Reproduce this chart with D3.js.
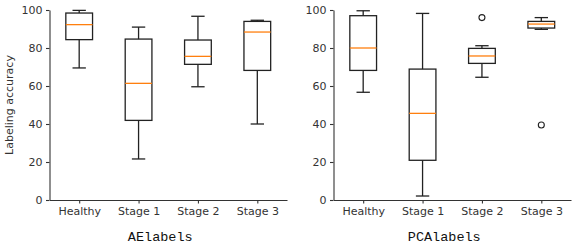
<!DOCTYPE html>
<html>
<head>
<meta charset="utf-8">
<script src="https://cdn.jsdelivr.net/npm/d3@7"></script>
<style>
  body { margin: 0; background: #fff; }
  svg { display: block; }
  .axis text { font-family: "DejaVu Sans", sans-serif; font-size: 11px; fill: #333; }
  .axis path, .axis line { stroke: #333; stroke-width: 1.1; }
  .xlabel { font-family: "Liberation Mono", monospace; font-size: 13.5px; fill: #111; }
  .ylabel { font-family: "DejaVu Sans", sans-serif; font-size: 11px; fill: #333; }
</style>
</head>
<body>
<div id="chart"></div>
<script>
//---------------------------DATA---------------------------//
const categories = ["Healthy", "Stage 1", "Stage 2", "Stage 3"];
const yTicks = [0, 20, 40, 60, 80, 100];

// per category: [lower whisker, Q1, median, Q3, upper whisker]
const aeStats = [
  [69.5, 84.4, 92.3, 98.4, 99.8],
  [21.6, 41.9, 61.4, 84.7, 91.0],
  [59.6, 71.4, 75.6, 84.2, 96.7],
  [40.0, 68.2, 88.4, 94.0, 94.6]
];
const aeOutliers = [[], [], [], []];

const pcaStats = [
  [56.7, 68.2, 80.0, 97.0, 99.6],
  [2.1, 20.9, 45.6, 68.9, 98.2],
  [64.6, 71.9, 75.8, 79.8, 81.2],
  [89.8, 90.5, 92.6, 94.0, 96.0]
];
const pcaOutliers = [[], [], [96.0], [39.5]];

//--------------------------LAYOUT--------------------------//
const width = 574;
const height = 246;
const plotTop = 10, plotBottom = 200;

const svg = d3.select("#chart").append("svg")
    .attr("width", width)
    .attr("height", height);

const panels = [
  {x0: 49.5, x1: 287, stats: aeStats, outliers: aeOutliers, label: "AElabels"},
  {x0: 333.5, x1: 571, stats: pcaStats, outliers: pcaOutliers, label: "PCAlabels"}
];

const yScale = d3.scaleLinear().domain([0, 100]).range([plotBottom, plotTop]);

panels.forEach(function(p, pi) {
  const xScale = d3.scaleLinear().domain([0.5, 4.5]).range([p.x0, p.x1]);
  const g = svg.append("g");

  //-------------------------AXES-------------------------//
  g.append("g")
      .attr("class", "axis")
      .attr("transform", "translate(" + p.x0 + ",0)")
      .call(d3.axisLeft(yScale).tickValues(yTicks)
          .tickSize(3.5).tickSizeOuter(0).tickPadding(3.5));

  g.append("g")
      .attr("class", "axis")
      .attr("transform", "translate(0," + plotBottom + ")")
      .call(d3.axisBottom(xScale).tickValues([1, 2, 3, 4])
          .tickFormat(function(d) { return categories[d - 1]; })
          .tickSize(3.5).tickSizeOuter(0).tickPadding(3.5));

  g.append("text")
      .attr("class", "xlabel")
      .attr("x", (p.x0 + p.x1) / 2 - 8)
      .attr("y", 241)
      .attr("text-anchor", "middle")
      .text(p.label);

  if (pi === 0) {
    g.append("text")
        .attr("class", "ylabel")
        .attr("transform", "translate(12.5," + (plotTop + plotBottom) / 2 + ") rotate(-90)")
        .attr("text-anchor", "middle")
        .text("Labeling accuracy");
  }

  //-------------------------BOXES------------------------//
  const unit = xScale(2) - xScale(1);
  const boxW = 0.45 * unit;
  const capW = boxW / 2;

  const boxes = g.selectAll(".box")
      .data(p.stats)
      .enter()
      .append("g")
      .attr("class", "box");

  boxes.append("rect")
      .attr("x", function(d, i) { return xScale(i + 1) - boxW / 2; })
      .attr("y", function(d) { return yScale(d[3]); })
      .attr("width", boxW)
      .attr("height", function(d) { return yScale(d[1]) - yScale(d[3]); })
      .attr("fill", "none")
      .attr("stroke", "#222")
      .attr("stroke-width", 1.3);

  // whiskers
  boxes.append("line")
      .attr("x1", function(d, i) { return xScale(i + 1); })
      .attr("x2", function(d, i) { return xScale(i + 1); })
      .attr("y1", function(d) { return yScale(d[0]); })
      .attr("y2", function(d) { return yScale(d[1]); })
      .attr("stroke", "#222").attr("stroke-width", 1.3);
  boxes.append("line")
      .attr("x1", function(d, i) { return xScale(i + 1); })
      .attr("x2", function(d, i) { return xScale(i + 1); })
      .attr("y1", function(d) { return yScale(d[3]); })
      .attr("y2", function(d) { return yScale(d[4]); })
      .attr("stroke", "#222").attr("stroke-width", 1.3);

  // caps
  [0, 4].forEach(function(k) {
    boxes.append("line")
        .attr("x1", function(d, i) { return xScale(i + 1) - capW / 2; })
        .attr("x2", function(d, i) { return xScale(i + 1) + capW / 2; })
        .attr("y1", function(d) { return yScale(d[k]); })
        .attr("y2", function(d) { return yScale(d[k]); })
        .attr("stroke", "#222").attr("stroke-width", 1.3);
  });

  // medians
  boxes.append("line")
      .attr("x1", function(d, i) { return xScale(i + 1) - boxW / 2; })
      .attr("x2", function(d, i) { return xScale(i + 1) + boxW / 2; })
      .attr("y1", function(d) { return yScale(d[2]); })
      .attr("y2", function(d) { return yScale(d[2]); })
      .attr("stroke", "#ff7f0e").attr("stroke-width", 1.3);

  //------------------------OUTLIERS----------------------//
  p.outliers.forEach(function(vals, i) {
    g.selectAll(null)
        .data(vals)
        .enter()
        .append("circle")
        .attr("cx", xScale(i + 1))
        .attr("cy", function(d) { return yScale(d); })
        .attr("r", 3)
        .attr("fill", "none")
        .attr("stroke", "#222")
        .attr("stroke-width", 1.1);
  });
});
</script>
</body>
</html>
